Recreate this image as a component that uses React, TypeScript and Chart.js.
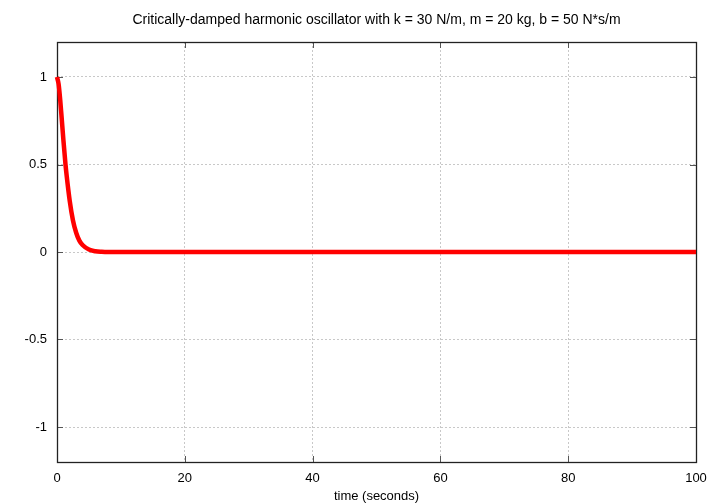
import React, { useEffect, useRef } from "react";
import { Chart, registerables } from "chart.js";

Chart.register(...registerables);

const titleText = "Critically-damped harmonic oscillator with k = 30 N/m, m = 20 kg, b = 50 N*s/m";
const xTitle = "time (seconds)";
const timeValues = [0, 0.25, 0.5, 0.7, 1, 1.33, 1.5, 2, 2.5, 3, 3.5, 4, 5, 6, 7, 8, 100];
const positionValues = [1.0, 0.96, 0.87, 0.78, 0.64, 0.5, 0.44, 0.29, 0.18, 0.11, 0.065, 0.04, 0.014, 0.004, 0.001, 0, 0];
const xTicks = [0, 20, 40, 60, 80, 100];
const yTicks = [-1, -0.5, 0, 0.5, 1];

const FONT = "'Liberation Sans', Arial, sans-serif";

const titlePlugin = {
  id: "plotTitle",
  afterDraw(chart: any) {
    const { ctx, chartArea: a } = chart;
    ctx.save();
    ctx.fillStyle = "#000";
    ctx.font = `14px ${FONT}`;
    ctx.textAlign = "center";
    ctx.textBaseline = "middle";
    ctx.fillText(titleText, (a.left + a.right) / 2, 20);
    ctx.restore();
  },
};

const framePlugin = {
  id: "frame",
  beforeDatasetsDraw(chart: any) {
    const { ctx, chartArea: a, scales } = chart;
    ctx.save();
    ctx.strokeStyle = "#555";
    ctx.lineWidth = 1;
    const L = 6;
    scales.x.ticks.forEach((t: any) => {
      const px = Math.round(scales.x.getPixelForValue(t.value)) + 0.5;
      ctx.beginPath();
      ctx.moveTo(px, a.bottom);
      ctx.lineTo(px, a.bottom - L);
      ctx.moveTo(px, a.top);
      ctx.lineTo(px, a.top + L);
      ctx.stroke();
    });
    scales.y.ticks.forEach((t: any) => {
      const py = Math.round(scales.y.getPixelForValue(t.value)) + 0.5;
      ctx.beginPath();
      ctx.moveTo(a.left, py);
      ctx.lineTo(a.left + L, py);
      ctx.moveTo(a.right, py);
      ctx.lineTo(a.right - L, py);
      ctx.stroke();
    });
    ctx.strokeStyle = "#222";
    ctx.lineWidth = 1.3;
    ctx.strokeRect(Math.round(a.left) + 0.5, Math.round(a.top) + 0.5, Math.round(a.right - a.left), Math.round(a.bottom - a.top));
    ctx.restore();
  },
};

export default function App() {
  const ref = useRef<HTMLCanvasElement>(null);
  useEffect(() => {
    document.body.style.margin = "0";
    const chart = new Chart(ref.current!, {
      type: "line",
      data: {
        datasets: [
          {
            data: timeValues.map((t, i) => ({ x: t, y: positionValues[i] })),
            borderColor: "#ff0000",
            borderWidth: 4.5,
            pointRadius: 0,
            cubicInterpolationMode: "monotone",
            clip: false as any,
            fill: false,
          },
        ],
      },
      plugins: [framePlugin, titlePlugin],
      options: {
        animation: false,
        responsive: false,
        layout: { padding: { left: 0, right: 24, top: 42, bottom: 0 } },
        plugins: {
          legend: { display: false },
          tooltip: { enabled: false },
          title: { display: false },
        },
        scales: {
          x: {
            type: "linear",
            min: 0,
            max: 100,
            afterBuildTicks: (s: any) => {
              s.ticks = xTicks.map((v) => ({ value: v }));
            },
            afterFit: (s: any) => {
              s.height = 42;
            },
            grid: { color: "#c8c8c8", drawTicks: false, lineWidth: 1 },
            border: { display: false, dash: [2, 2] },
            ticks: { color: "#000", padding: 9, font: { family: FONT, size: 13 }, maxRotation: 0, callback: (v: any) => String(v) },
            title: { display: true, text: xTitle, color: "#000", font: { family: FONT, size: 13 }, padding: { top: 0, bottom: 0 } },
          },
          y: {
            type: "linear",
            min: -1.2,
            max: 1.2,
            afterBuildTicks: (s: any) => {
              s.ticks = yTicks.map((v) => ({ value: v }));
            },
            afterFit: (s: any) => {
              s.width = 57;
            },
            grid: { color: "#c8c8c8", drawTicks: false, lineWidth: 1 },
            border: { display: false, dash: [2, 2] },
            ticks: { color: "#000", padding: 10, font: { family: FONT, size: 13 }, callback: (v: any) => String(v) },
          },
        },
      } as any,
    });
    return () => chart.destroy();
  }, []);
  return (
    <div style={{ position: "absolute", left: 0, top: 0, width: 720, height: 504 }}>
      <canvas ref={ref} width={720} height={504} style={{ width: 720, height: 504 }} />
    </div>
  );
}
